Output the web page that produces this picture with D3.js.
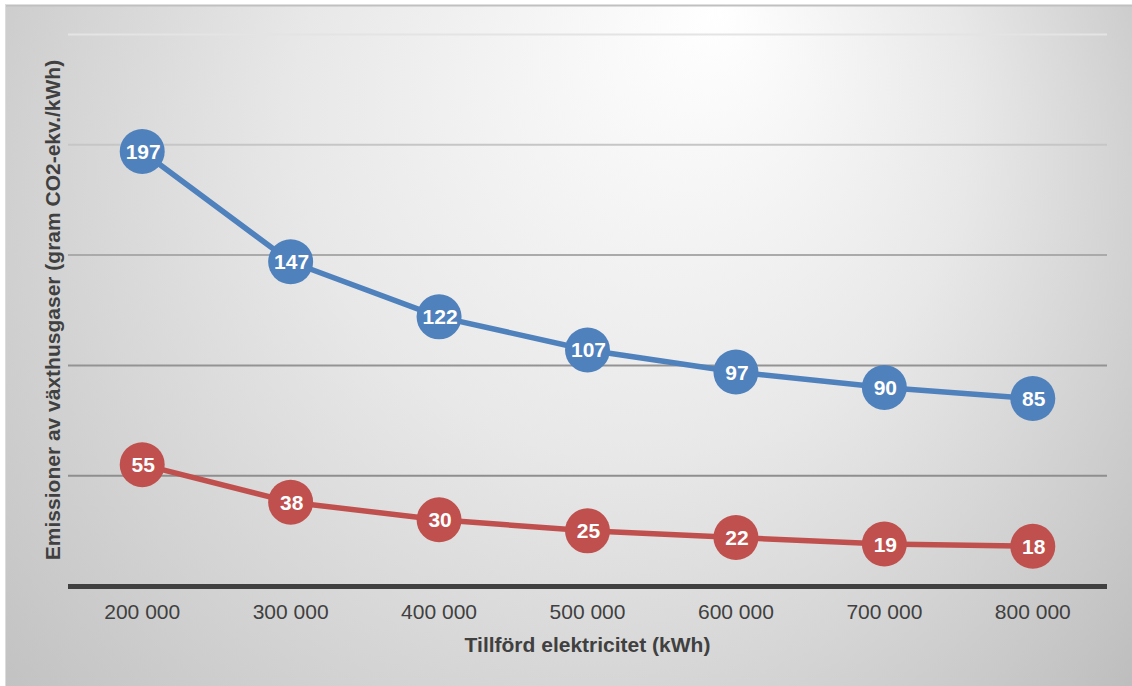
<!DOCTYPE html>
<html>
<head>
<meta charset="utf-8">
<script src="https://cdn.jsdelivr.net/npm/d3@7/dist/d3.min.js"></script>
<style>
  html, body { margin: 0; padding: 0; background: #ffffff; }
  svg { display: block; }
  text { font-family: "Liberation Sans", Arial, sans-serif; }
</style>
</head>
<body>
<svg id="chart" width="1132" height="686"></svg>
<script>
// Supplied electricity (kWh) categories
const categories = ["200 000", "300 000", "400 000", "500 000", "600 000", "700 000", "800 000"];
// Greenhouse gas emissions, gram CO2-eq per kWh
const seriesHigh = [197, 147, 122, 107, 97, 90, 85];
const seriesLow = [55, 38, 30, 25, 22, 19, 18];
// Horizontal gridline values
const gridValues = [50, 100, 150, 200, 250];

const xTitle = "Tillförd elektricitet (kWh)";
const yTitle = "Emissioner av växthusgaser (gram CO2-ekv./kWh)";

const W = 1132, H = 686;
const plot = { left: 68, right: 1107, top: 34.5, bottom: 586 };

const svg = d3.select("#chart");
const defs = svg.append("defs");

// Soft radial shading behind the chart
const grad = defs.append("radialGradient")
  .attr("id", "bg")
  .attr("gradientUnits", "userSpaceOnUse")
  .attr("cx", 528).attr("cy", 250).attr("r", 750)
  .attr("fx", 720).attr("fy", 10);
grad.append("stop").attr("offset", 0).attr("stop-color", "#ffffff");
grad.append("stop").attr("offset", 0.45).attr("stop-color", "#e8e8e8");
grad.append("stop").attr("offset", 1).attr("stop-color", "#bdbdbd");

svg.append("rect")
  .attr("x", 5).attr("y", 5).attr("width", W - 5).attr("height", H - 5)
  .attr("fill", "url(#bg)");
svg.append("line")
  .attr("x1", 5).attr("x2", W).attr("y1", 5.5).attr("y2", 5.5)
  .attr("stroke", "#c0c0c0").attr("stroke-width", 2);
svg.append("line")
  .attr("x1", 5.5).attr("x2", 5.5).attr("y1", 5).attr("y2", H)
  .attr("stroke", "#dcdcdc").attr("stroke-width", 1);

const x = d3.scaleBand().domain(categories).range([plot.left, plot.right]).padding(0);
const cx = c => x(c) + x.bandwidth() / 2;
const y = d3.scaleLinear().domain([0, 250]).range([plot.bottom, plot.top]);

// Gridlines fade out toward the top
const gridColor = d3.scaleLinear().domain([50, 100, 150, 200, 250])
  .range(["#8e8e8e", "#939393", "#aaaaaa", "#c6c6c6", "#e4e4e4"]);

svg.append("g")
  .selectAll("line")
  .data(gridValues)
  .join("line")
  .attr("x1", plot.left).attr("x2", plot.right)
  .attr("y1", d => y(d)).attr("y2", d => y(d))
  .attr("stroke", d => gridColor(d))
  .attr("stroke-width", 2);

// Category axis
const xAxis = svg.append("g")
  .attr("transform", `translate(0,${plot.bottom})`)
  .call(d3.axisBottom(x).tickSize(0).tickPadding(0));
xAxis.select(".domain")
  .attr("stroke", "#404040").attr("stroke-width", 5)
  .attr("d", `M${plot.left},0.5H${plot.right}`);
xAxis.selectAll(".tick text")
  .attr("fill", "#404040")
  .attr("font-size", 21)
  .attr("font-family", "'Liberation Sans', Arial, sans-serif")
  .attr("dy", null)
  .attr("y", 33);

// Axis titles
svg.append("text")
  .attr("x", (plot.left + plot.right) / 2)
  .attr("y", 652)
  .attr("text-anchor", "middle")
  .attr("font-size", 21).attr("font-weight", "bold")
  .attr("fill", "#404040")
  .text(xTitle);

svg.append("text")
  .attr("transform", "translate(60,310) rotate(-90)")
  .attr("text-anchor", "middle")
  .attr("font-size", 21).attr("font-weight", "bold")
  .attr("fill", "#404040")
  .text(yTitle);

const line = d3.line().x(d => cx(d.c)).y(d => y(d.v));

function drawSeries(values, color) {
  const pts = values.map((v, i) => ({ c: categories[i], v }));
  const g = svg.append("g");
  g.append("path")
    .datum(pts)
    .attr("d", line)
    .attr("fill", "none")
    .attr("stroke", color)
    .attr("stroke-width", 5.5)
    .attr("stroke-linejoin", "round");
  g.selectAll("circle")
    .data(pts)
    .join("circle")
    .attr("cx", d => cx(d.c))
    .attr("cy", d => y(d.v))
    .attr("r", 22.5)
    .attr("fill", color);
  g.selectAll("text")
    .data(pts)
    .join("text")
    .attr("x", d => cx(d.c) + 1)
    .attr("y", d => y(d.v) + 7.5)
    .attr("text-anchor", "middle")
    .attr("font-size", 21)
    .attr("font-weight", "bold")
    .attr("fill", "#ffffff")
    .text(d => d.v);
}

drawSeries(seriesHigh, "#4f81bd");
drawSeries(seriesLow, "#c0504d");
</script>
</body>
</html>
